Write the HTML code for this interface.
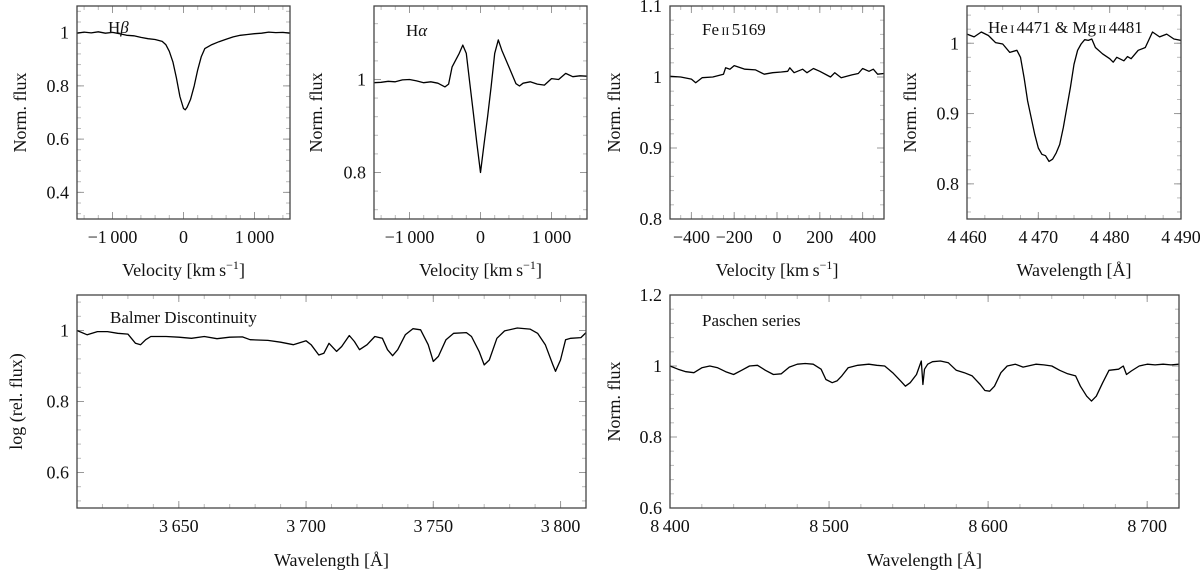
<!DOCTYPE html>
<html><head><meta charset="utf-8">
<style>
html,body{margin:0;padding:0;background:#fff;}
svg{display:block;}
svg text{font-family:"Liberation Serif","Times New Roman",serif;}
</style></head>
<body>
<svg id="fig" width="1200" height="570" viewBox="0 0 1200 570" xmlns="http://www.w3.org/2000/svg" font-family="Liberation Serif, serif"></svg>
<script>
// ---- Data arrays ----
const hbVel = [-1500,-1400,-1300,-1200,-1100,-1000,-900,-800,-700,-600,-500,-400,-300,-250,-200,-150,-100,-50,0,25,50,100,150,200,250,300,400,500,600,700,800,900,1000,1100,1200,1300,1400,1500];
const hbFlux = [0.998,1.002,0.999,1.003,0.998,1.001,0.996,0.99,0.988,0.982,0.977,0.974,0.967,0.955,0.93,0.89,0.83,0.76,0.715,0.71,0.72,0.75,0.80,0.86,0.91,0.94,0.955,0.966,0.975,0.984,0.99,0.993,0.996,0.998,1.002,1.0,1.001,0.998];

const haVel = [-1500,-1400,-1300,-1200,-1100,-1000,-900,-800,-700,-600,-500,-450,-400,-300,-250,-200,-150,-100,-50,0,50,100,150,200,250,300,400,500,550,600,700,800,900,1000,1100,1200,1300,1400,1500];
const haFlux = [0.993,0.994,0.996,0.995,0.999,1.0,0.997,0.993,0.995,0.992,0.984,0.99,1.027,1.056,1.074,1.056,0.99,0.927,0.862,0.80,0.862,0.92,0.984,1.056,1.085,1.063,1.027,0.991,0.986,0.992,0.995,0.99,0.988,1.002,1.0,1.013,1.006,1.008,1.007];

const feVel = [-500,-450,-400,-380,-350,-300,-250,-240,-220,-200,-150,-100,-60,-20,20,50,60,80,120,140,170,200,250,270,300,350,380,400,430,450,470,500];
const feFlux = [1.001,1.0,0.997,0.992,0.999,1.0,1.004,1.013,1.011,1.016,1.011,1.01,1.004,1.006,1.007,1.008,1.013,1.006,1.011,1.006,1.012,1.008,1.0,1.006,0.999,1.003,1.005,1.012,1.008,1.011,1.004,1.005];

const heWave = [4460,4461,4462,4463,4464,4465,4466,4467,4467.5,4468,4468.5,4469,4469.5,4470,4470.5,4471,4471.5,4472,4472.5,4473,4473.5,4474,4474.5,4475,4475.5,4476,4476.5,4477,4477.5,4478,4479,4480,4480.5,4481,4482,4482.5,4483,4484,4485,4486,4487,4488,4489,4490];
const heFlux = [1.013,1.009,1.016,1.011,1.001,0.999,0.987,0.99,0.98,0.951,0.918,0.894,0.87,0.851,0.842,0.84,0.832,0.835,0.844,0.856,0.88,0.909,0.937,0.97,0.99,0.999,1.005,1.004,1.006,0.994,0.985,0.978,0.973,0.98,0.975,0.981,0.978,0.99,0.994,1.016,1.009,1.013,1.006,1.004];

const bdWave = [3610,3614,3618,3622,3626,3630,3633,3635,3637,3639,3645,3650,3655,3660,3665,3670,3675,3678,3685,3690,3695,3700,3702,3705,3707,3709,3712,3714,3717,3719,3721,3724,3727,3730,3732,3734,3736,3739,3742,3745,3748,3750,3752,3755,3758,3763,3765,3768,3770,3772,3775,3778,3783,3788,3791,3794,3797,3798,3800,3802,3804,3808,3810];
const bdFlux = [1.0,0.988,0.997,0.997,0.992,0.99,0.964,0.96,0.974,0.983,0.983,0.981,0.978,0.983,0.977,0.981,0.982,0.974,0.972,0.967,0.96,0.971,0.96,0.931,0.936,0.964,0.941,0.955,0.986,0.969,0.946,0.96,0.983,0.978,0.946,0.929,0.946,0.988,1.005,1.002,0.96,0.913,0.927,0.974,0.992,0.994,0.983,0.941,0.903,0.917,0.978,0.999,1.007,1.004,0.992,0.96,0.903,0.885,0.917,0.974,0.978,0.98,0.994];

const paWave = [8400,8405,8410,8415,8420,8425,8430,8435,8440,8445,8450,8455,8460,8465,8470,8475,8480,8485,8490,8495,8498,8502,8505,8508,8512,8518,8525,8530,8535,8540,8545,8548,8551,8555,8558,8559,8560,8562,8565,8570,8575,8580,8585,8590,8595,8598,8601,8604,8608,8612,8617,8622,8630,8635,8640,8645,8650,8655,8658,8662,8665,8668,8672,8676,8682,8685,8687,8690,8695,8700,8705,8710,8715,8720];
const paFlux = [1.0,0.991,0.984,0.981,0.995,1.0,0.995,0.984,0.976,0.988,1.0,1.002,0.988,0.976,0.978,0.997,1.005,1.007,1.005,0.991,0.962,0.953,0.958,0.972,0.995,1.002,1.005,1.002,1.0,0.981,0.958,0.943,0.953,0.976,1.014,0.948,0.991,1.005,1.012,1.014,1.009,0.988,0.981,0.972,0.948,0.931,0.929,0.943,0.981,1.0,1.005,0.997,1.005,1.003,1.0,0.988,0.978,0.972,0.943,0.915,0.901,0.915,0.953,0.988,0.991,1.0,0.976,0.986,1.0,1.005,1.003,1.005,1.003,1.005];

const hbXTicks = [-1000,0,1000];
const hbYTicks = [0.4,0.6,0.8,1];
const haXTicks = [-1000,0,1000];
const haYTicks = [0.8,1];
const feXTicks = [-400,-200,0,200,400];
const feYTicks = [0.8,0.9,1,1.1];
const heXTicks = [4460,4470,4480,4490];
const heYTicks = [0.8,0.9,1];
const bdXTicks = [3650,3700,3750,3800];
const bdYTicks = [0.6,0.8,1];
const paXTicks = [8400,8500,8600,8700];
const paYTicks = [0.6,0.8,1,1.2];

// ---- Rendering ----
const NS = "http://www.w3.org/2000/svg";
const FONT = "Liberation Serif, Times New Roman, serif";
const fig = document.getElementById('fig');
function mk(tag, attrs, parent){const e=document.createElementNS(NS,tag);for(const k in attrs)e.setAttribute(k,attrs[k]);if(tag==='text')e.setAttribute('font-family',FONT);(parent||fig).appendChild(e);return e;}
function fmt(v){
  let s = (Math.round(v*1000)/1000).toString();
  const neg = s[0]==='-'; if(neg) s=s.slice(1);
  let [i,d] = s.split('.');
  if(i.length>3) i = i.slice(0,i.length-3)+'\u2009'+i.slice(i.length-3);
  return (neg?'\u2212':'')+i+(d?'.'+d:'');
}
function panel(o){
  const g = mk('g',{});
  
  
  const sx = v => o.x0 + (v-o.xmin)/(o.xmax-o.xmin)*(o.x1-o.x0);
  const sy = v => o.y1 - (v-o.ymin)/(o.ymax-o.ymin)*(o.y1-o.y0);
  const eps=1e-9;
  for(let v=Math.ceil(o.xmin/o.xminor-eps)*o.xminor; v<=o.xmax+eps; v+=o.xminor){
    const x=sx(v);
    const t1=mk('line',{x1:x,x2:x,y1:o.y1,y2:o.y1-4,stroke:'#bbb','stroke-width':1},g);
    
    
    const t2=mk('line',{x1:x,x2:x,y1:o.y0,y2:o.y0+4,stroke:'#bbb','stroke-width':1},g);
    
    
  }
  for(let v=Math.ceil(o.ymin/o.yminor-eps)*o.yminor; v<=o.ymax+eps; v+=o.yminor){
    const y=sy(v);
    const t1=mk('line',{x1:o.x0,x2:o.x0+4,y1:y,y2:y,stroke:'#bbb','stroke-width':1},g);
    
    
    const t2=mk('line',{x1:o.x1,x2:o.x1-4,y1:y,y2:y,stroke:'#bbb','stroke-width':1},g);
    
    
  }
  o.xt.forEach(v=>{
    const x=sx(v);
    const a=mk('line',{x1:x,x2:x,y1:o.y1,y2:o.y1-7,stroke:'#999','stroke-width':1},g);
    
    
    const b=mk('line',{x1:x,x2:x,y1:o.y0,y2:o.y0+7,stroke:'#999','stroke-width':1},g);
    
    
    const t=mk('text',{x:x,y:o.y1+24,'text-anchor':'middle','font-size':18,fill:'#111'},g);
    
    
    t.textContent=fmt(v);
  });
  o.yt.forEach(v=>{
    const y=sy(v);
    const a=mk('line',{x1:o.x0,x2:o.x0+7,y1:y,y2:y,stroke:'#999','stroke-width':1},g);
    
    
    const b=mk('line',{x1:o.x1,x2:o.x1-7,y1:y,y2:y,stroke:'#999','stroke-width':1},g);
    
    
    const t=mk('text',{x:o.x0-8,y:y+6,'text-anchor':'end','font-size':18,fill:'#111'},g);
    
    
    t.textContent=fmt(v);
  });
  let d='';
  o.xs.forEach((v,i)=>{d+=(i?'L':'M')+sx(v).toFixed(1)+','+sy(o.ys[i]).toFixed(1);});
  const p=mk('path',{d:d,fill:'none',stroke:'#000','stroke-width':1.3,'stroke-linejoin':'round'},g);
  
  
  const r=mk('rect',{x:o.x0,y:o.y0,width:o.x1-o.x0,height:o.y1-o.y0,fill:'none',stroke:'#444','stroke-width':1.3},g);
  
  
  const tt=mk('text',{x:o.tx,y:o.ty,'font-size':17,fill:'#111'},g);
  
  
  tt.innerHTML=o.title;
  const yl=mk('text',{x:o.ylx,y:(o.y0+o.y1)/2,'text-anchor':'middle','font-size':18,fill:'#111',transform:`rotate(-90 ${o.ylx} ${(o.y0+o.y1)/2})`},g);
  
  
  yl.textContent=o.ylabel;
  const xl=mk('text',{x:(o.x0+o.x1)/2,y:o.xly,'text-anchor':'middle','font-size':18,fill:'#111'},g);
  
  
  xl.innerHTML=o.xlabel;
}
const vel='Velocity [km\u2009s<tspan dy="-7" font-size="12">\u22121</tspan><tspan dy="7">]</tspan>';
const wl='Wavelength [Å]';
panel({name:'h-beta-panel',x0:77,x1:290,y0:6,y1:219,xmin:-1500,xmax:1500,ymin:0.3,ymax:1.1,xminor:200,yminor:0.04,xt:hbXTicks,yt:hbYTicks,xs:hbVel,ys:hbFlux,title:'H<tspan font-style="italic">β</tspan>',tx:108,ty:33,ylabel:'Norm. flux',ylx:26,xlabel:vel,xly:276});
panel({name:'h-alpha-panel',x0:374,x1:587,y0:6,y1:219,xmin:-1500,xmax:1500,ymin:0.7,ymax:1.158,xminor:200,yminor:0.04,xt:haXTicks,yt:haYTicks,xs:haVel,ys:haFlux,title:'H<tspan font-style="italic">α</tspan>',tx:406,ty:36,ylabel:'Norm. flux',ylx:322,xlabel:vel,xly:276});
panel({name:'fe-ii-panel',x0:670,x1:884,y0:6,y1:219,xmin:-500,xmax:500,ymin:0.8,ymax:1.1,xminor:50,yminor:0.02,xt:feXTicks,yt:feYTicks,xs:feVel,ys:feFlux,title:'Fe<tspan font-size="12">\u2009II\u2009</tspan>5169',tx:702,ty:35,ylabel:'Norm. flux',ylx:620,xlabel:vel,xly:276});
panel({name:'he-mg-panel',x0:967,x1:1181,y0:6,y1:219,xmin:4460,xmax:4490,ymin:0.75,ymax:1.053,xminor:2.5,yminor:0.02,xt:heXTicks,yt:heYTicks,xs:heWave,ys:heFlux,title:'He<tspan font-size="12">\u2009I\u2009</tspan>4471 &amp; Mg<tspan font-size="12">\u2009II\u2009</tspan>4481',tx:988,ty:33,ylabel:'Norm. flux',ylx:916,xlabel:wl,xly:276});
panel({name:'balmer-panel',x0:77,x1:586,y0:295,y1:508,xmin:3610,xmax:3810,ymin:0.5,ymax:1.1,xminor:10,yminor:0.04,xt:bdXTicks,yt:bdYTicks,xs:bdWave,ys:bdFlux,title:'Balmer Discontinuity',tx:110,ty:323,ylabel:'log (rel. flux)',ylx:22,xlabel:wl,xly:566});
panel({name:'paschen-panel',x0:670,x1:1179,y0:295,y1:508,xmin:8400,xmax:8720,ymin:0.6,ymax:1.2,xminor:20,yminor:0.04,xt:paXTicks,yt:paYTicks,xs:paWave,ys:paFlux,title:'Paschen series',tx:702,ty:326,ylabel:'Norm. flux',ylx:620,xlabel:wl,xly:566});
</script>
</body></html>
